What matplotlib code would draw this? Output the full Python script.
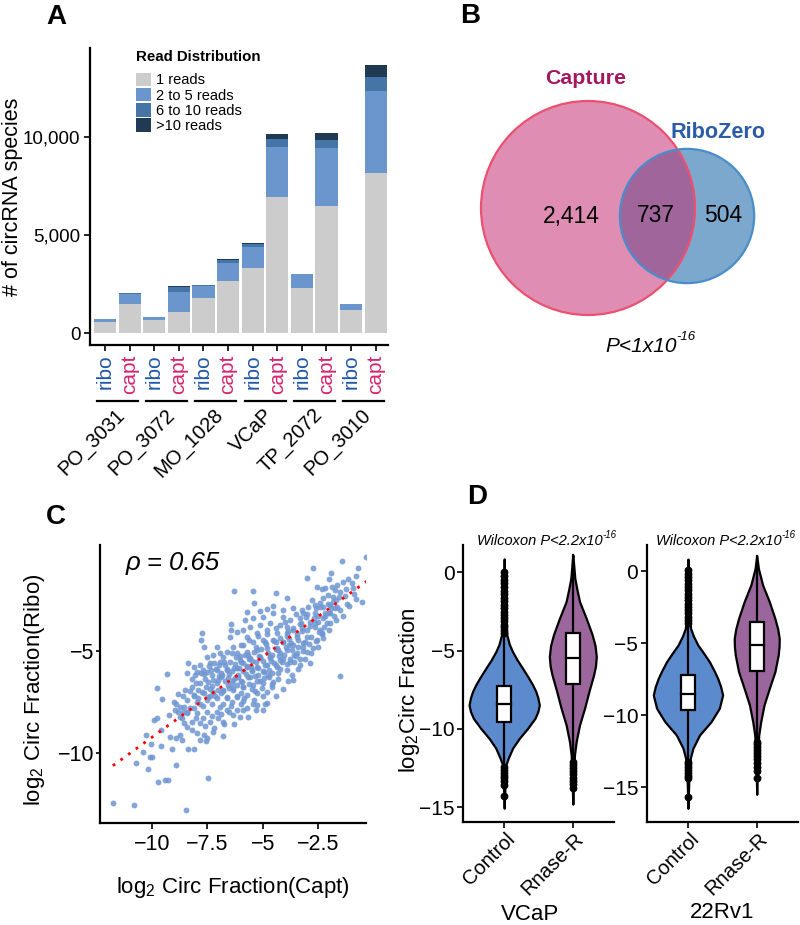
import numpy as np
import matplotlib
matplotlib.use('Agg')
import matplotlib.pyplot as plt
from matplotlib.patches import Circle, Rectangle, Patch
from matplotlib.lines import Line2D
import matplotlib.transforms as mtransforms

plt.rcParams['font.family'] = ['Liberation Sans', 'DejaVu Sans']
plt.rcParams['mathtext.fontset'] = 'custom'
plt.rcParams['mathtext.rm'] = 'Liberation Sans'
plt.rcParams['mathtext.it'] = 'Liberation Sans:italic'
plt.rcParams['mathtext.bf'] = 'Liberation Sans:bold'

# ---------------- Panel A data ----------------
samples = ['PO_3031', 'PO_3072', 'MO_1028', 'VCaP', 'TP_2072', 'PO_3010']
libraries = ['ribo', 'capt']
read_classes = ['1 reads', '2 to 5 reads', '6 to 10 reads', '>10 reads']
reads_1 = [590, 1480, 670, 1060, 1800, 2640, 3330, 6940, 2300, 6470, 1180, 8150]
reads_2_5 = [115, 535, 135, 1025, 600, 940, 1075, 2555, 690, 2940, 285, 4150]
reads_6_10 = [10, 20, 10, 270, 35, 150, 135, 385, 50, 420, 15, 720]
reads_gt10 = [0, 0, 0, 65, 0, 65, 50, 235, 0, 335, 0, 640]
a_yticks = [0, 5000, 10000]
a_yticklabels = ['0', '5,000', '10,000']

# ---------------- Panel B data ----------------
venn_counts = [2414, 737, 504]   # Capture only, both, RiboZero only
venn_names = ['Capture', 'RiboZero']

# ---------------- Panel C data ----------------
capt_log2 = [
    -0.32, -1.44, -2.72, -0.69, -1.92, -3.02, -1.14, -0.77, -2.0, -1.37,
    -1.67, -2.57, -2.34, -2.19, -1.89, -1.74, -1.52, -0.99, -0.92, -1.22,
    -1.55, -2.04, -0.54, -0.77, -1.1, -6.28, -5.42, -4.4, -3.89, -5.38,
    -4.52, -5.72, -5.12, -4.82, -4.07, -3.62, -3.24, -2.94, -2.42, -1.82,
    -1.52, -2.79, -2.64, -2.27, -1.97, -3.17, -2.49, -2.19, -1.97, -1.64,
    -6.44, -6.44, -7.75, -7.78, -6.47, -6.14, -5.8, -5.42, -4.97, -4.52,
    -4.07, -3.77, -3.32, -2.87, -2.64, -3.24, -3.62, -3.92, -4.22, -4.67,
    -5.12, -5.57, -5.87, -5.72, -5.27, -4.82, -4.37, -3.92, -3.47, -3.02,
    -2.57, -2.34, -2.12, -2.42, -3.17, -3.62, -4.07, -4.52, -4.97, -5.42,
    -5.87, -6.32, -7.07, -7.67, -7.52, -7.22, -6.92, -6.62, -6.17, -5.72,
    -5.27, -4.82, -4.37, -3.92, -3.47, -3.02, -2.72, -2.87, -3.32, -3.77,
    -4.22, -4.67, -5.12, -5.57, -6.02, -6.47, -6.92, -7.37, -7.82, -8.12,
    -8.35, -8.42, -7.97, -7.52, -7.07, -6.62, -6.17, -5.72, -5.27, -4.82,
    -4.37, -3.92, -1.52, -9.32, -3.87, -3.62,
    -9.77, -9.55, -9.92, -9.77, -9.02, -8.8, -8.5, -8.2, -7.82, -7.45,
    -7.0, -6.55, -6.1, -5.65, -5.2, -4.74, -4.29, -4.52, -4.97, -5.42,
    -5.87, -6.32, -6.77, -7.22, -7.67, -8.12, -8.42, -7.97, -7.52, -7.07,
    -6.62, -6.17, -5.72, -5.27, -4.82, -4.82, -5.27, -5.72, -6.17, -6.62,
    -7.07, -7.52, -7.97, -8.42, -8.72, -8.95, -8.65, -8.2, -7.82, -7.37,
    -7.0, -6.32, -6.02, -5.65, -4.97,
    -11.76, -10.8, -8.45, -7.45, -9.74, -9.4, -9.25, -10.18, -10.72, -8.89,
    -10.4, -10.08, -10.0, -10.03, -10.27, -9.61, -9.07, -8.35, -8.08, -9.22,
    -9.61, -9.17, -8.93, -8.72, -8.65, -8.42, -8.2, -7.97, -7.82, -7.55,
    -7.52, -7.67, -7.25, -6.8, -6.73, -8.57, -8.72, -8.42, -8.27, -8.57,
    -8.8,
    -7.3, -6.9, -6.4, -5.9, -5.5, -5.0, -4.6, -4.2, -3.8, -3.4,
    -3.0, -2.7, -3.3, -3.9, -4.4, -4.9, -5.3, -5.8, -6.2, -6.7,
    -7.1, -7.6, -8.0, -8.3, -7.9, -7.4, -6.9, -6.4, -6.0, -5.5,
    -5.0, -4.5, -4.1, -3.6, -3.2, -2.5, -2.2, -1.9, -1.7, -2.3,
    -2.6, -3.0, -3.5, -4.0, -4.4, -4.8, -5.2, -5.6, -6.0, -6.4,
    -6.8, -7.2, -7.8, -8.2, -8.6, -8.9, -8.6, -8.1, -7.7, -7.3,
    -6.8, -6.4, -6.0, -5.5, -5.1, -4.7, -4.3, -4.6, -5.0, -5.4,
    -6.0, -6.5, -6.9, -7.3, -7.7, -8.0, -7.6, -7.2, -6.8, -6.3,
    -5.9, -5.3, -4.9, -4.4, -4.1, -3.7, -3.4, -3.1, -2.8, -2.5,
    -2.3, -2.0, -1.7, -1.4, -1.2, -0.9, -1.3, -1.8,
    -7.93, -7.58, -7.27, -7.04, -6.71, -6.36, -6.12, -5.77, -5.49, -5.23,
    -4.88, -4.63, -4.27, -4.04, -3.66, -3.43, -3.08, -2.83, -2.47, -2.24,
    -7.81, -7.46, -7.14, -6.77, -6.52, -6.18, -5.94, -5.57, -5.33, -4.96,
    -4.72, -4.38, -4.13, -3.76, -3.52, -3.17, -2.91, -2.58, -2.33, -1.98,
    -7.68, -7.43, -6.96, -6.73, -6.27, -6.04, -5.66, -5.41, -5.06, -4.83,
    -4.47, -4.24, -3.86, -3.63, -3.28, -3.04, -2.66, -2.43, -2.07, -1.83,
    -8.12, -7.72, -7.36, -7.03, -6.58, -6.33, -5.87, -5.62, -5.27, -4.93,
    -4.57, -4.23, -3.92, -3.58, -3.31, -6.87, -6.54, -6.07, -5.72, -5.28,
    -7.22, -6.83, -6.27, -5.91, -5.53, -5.12, -4.68, -4.33, -3.97, -3.72,
    -8.04, -7.63, -7.32, -6.98, -6.62, -6.29, -5.98, -5.63, -5.18, -4.77,
    -4.42, -4.07, -3.83, -3.47, -3.22, -2.87, -2.62, -2.28, -2.03, -1.72,
    -6.63, -6.17, -5.84, -5.37, -5.03, -4.58, -6.93, -6.42, -5.88, -5.43,
]
ribo_log2 = [
    -0.39, -0.59, -0.96, -0.96, -1.21, -1.45, -1.5, -1.34, -1.5, -1.62,
    -1.78, -1.86, -1.99, -1.94, -1.86, -2.03, -2.11, -1.7, -1.94, -1.99,
    -2.35, -2.27, -2.6, -2.48, -2.81, -2.09, -2.08, -2.19, -2.43, -2.68,
    -2.81, -3.09, -3.06, -2.97, -3.0, -2.92, -3.0, -2.84, -2.68, -2.6,
    -3.0, -2.52, -2.76, -2.84, -2.76, -3.17, -3.3, -3.17, -3.17, -2.84,
    -3.71, -3.99, -4.12, -4.48, -4.31, -4.07, -3.5, -3.42, -3.33, -3.17,
    -3.33, -3.5, -3.42, -3.58, -3.82, -3.91, -3.99, -3.82, -3.74, -3.66,
    -3.74, -3.82, -3.99, -4.31, -4.15, -3.99, -4.15, -4.15, -4.31, -4.31,
    -4.48, -4.15, -3.66, -3.99, -4.64, -4.72, -4.56, -4.48, -4.48, -4.56,
    -4.72, -4.8, -4.8, -4.8, -5.29, -5.21, -5.13, -5.05, -5.13, -5.05,
    -4.97, -4.89, -4.89, -4.97, -5.13, -5.05, -4.89, -5.62, -5.7, -5.54,
    -5.46, -5.38, -5.29, -5.38, -5.46, -5.54, -5.54, -5.62, -5.7, -5.78,
    -5.62, -6.11, -6.03, -6.03, -5.95, -5.95, -5.87, -5.78, -5.78, -5.7,
    -5.78, -5.95, -6.23, -6.16, -6.47, -6.44,
    -6.85, -7.37, -8.4, -8.32, -7.5, -7.14, -6.93, -6.76, -6.6, -6.52,
    -6.44, -6.36, -6.27, -6.27, -6.19, -6.19, -6.11, -6.52, -6.6, -6.68,
    -6.76, -6.85, -6.93, -7.01, -7.09, -7.17, -7.42, -7.5, -7.42, -7.34,
    -7.34, -7.25, -7.17, -7.09, -7.01, -7.58, -7.66, -7.83, -7.91, -7.91,
    -7.99, -7.99, -8.07, -7.99, -7.75, -7.91, -8.32, -8.48, -8.56, -8.48,
    -8.32, -8.15, -8.24, -8.24, -7.91,
    -12.45, -12.58, -12.81, -11.26, -11.45, -11.32, -11.32, -10.82, -10.52, -10.6,
    -9.97, -10.2, -10.2, -9.59, -9.13, -9.69, -9.84, -9.82, -9.84, -8.15,
    -8.89, -9.22, -9.3, -9.13, -9.38, -8.76, -8.89, -9.05, -9.38, -9.43,
    -9.3, -9.13, -9.0, -9.17, -8.61, -8.56, -8.24, -8.07, -7.83, -7.75,
    -7.99,
    -6.2, -6.1, -6.0, -5.6, -5.5, -5.5, -5.2, -5.1, -4.7, -4.5,
    -4.0, -3.4, -3.7, -4.3, -4.6, -4.6, -4.8, -5.2, -5.3, -5.7,
    -5.9, -6.4, -6.6, -7.0, -7.3, -7.2, -7.1, -6.6, -6.5, -6.0,
    -6.0, -5.6, -5.4, -5.2, -4.8, -3.6, -3.3, -2.9, -2.5, -2.4,
    -2.9, -3.2, -3.2, -3.6, -3.9, -4.2, -4.3, -4.5, -4.7, -5.1,
    -5.3, -5.6, -6.1, -6.4, -7.2, -7.6, -8.0, -7.8, -7.7, -7.6,
    -7.6, -7.5, -7.1, -6.9, -6.5, -6.3, -6.4, -6.8, -7.2, -7.4,
    -7.6, -8.0, -8.1, -8.2, -8.3, -8.3, -8.7, -8.8, -8.5, -8.6,
    -7.9, -7.9, -7.6, -7.2, -6.9, -6.2, -5.9, -5.4, -5.1, -4.8,
    -4.4, -4.0, -3.5, -3.3, -2.7, -2.2, -2.3, -3.3,
    -6.93, -6.77, -6.72, -6.58, -6.47, -6.42, -6.18, -6.13, -5.97, -5.83,
    -5.68, -5.52, -5.27, -5.22, -4.97, -4.83, -4.58, -4.32, -4.07, -3.83,
    -7.63, -7.27, -7.22, -6.97, -6.83, -6.67, -6.53, -6.27, -6.22, -6.07,
    -5.93, -5.68, -5.57, -5.43, -5.27, -5.03, -4.67, -4.52, -4.17, -3.63,
    -5.93, -5.77, -5.72, -5.57, -5.63, -5.27, -5.23, -5.07, -4.93, -4.68,
    -4.52, -4.37, -4.03, -3.88, -3.63, -3.37, -3.13, -2.87, -2.72, -2.38,
    -7.23, -7.03, -6.88, -6.92, -6.68, -6.93, -6.77, -6.63, -6.47, -6.32,
    -6.08, -5.92, -5.63, -5.58, -5.43, -6.27, -6.13, -5.87, -5.73, -5.58,
    -6.43, -6.17, -6.33, -5.98, -5.82, -5.37, -5.33, -4.98, -4.82, -4.63,
    -6.17, -6.13, -5.97, -6.23, -5.88, -5.83, -5.57, -5.42, -5.27, -5.13,
    -4.93, -4.58, -4.43, -4.17, -4.03, -3.77, -3.63, -3.38, -3.13, -2.93,
    -7.27, -7.23, -7.32, -6.98, -6.83, -6.63, -7.77, -7.72, -7.47, -7.63,
]
fit_slope = 0.79
fit_intercept = -1.35
rho_text = 'ρ = 0.65'
c_xticks = [-10, -7.5, -5, -2.5]
c_xticklabels = ['\u221210', '\u22127.5', '\u22125', '\u22122.5']
c_yticks = [-10, -5]
c_yticklabels = ['\u221210', '\u22125']

# ---------------- Panel D data ----------------
d_groups = ['Control', 'Rnase-R']
d_cells = ['VCaP', '22Rv1']
d_yticks = [0, -5, -10, -15]
d_yticklabels = ['0', '\u22125', '\u221210', '\u221215']
# violin outlines: y levels and half-widths
vcap_ctrl_y = [0.85, -1.0, -3.0, -4.0, -4.6, -5.07, -5.6, -6.13, -6.7, -7.19, -7.6, -8.0, -8.47, -8.9, -9.32, -9.96, -10.6, -11.23, -11.87, -12.3, -13.5, -15.06]
vcap_ctrl_w = [0.0, 0.006, 0.02, 0.039, 0.075, 0.122, 0.19, 0.268, 0.35, 0.415, 0.46, 0.49, 0.512, 0.49, 0.449, 0.342, 0.22, 0.122, 0.059, 0.024, 0.012, 0.0]
vcap_rnase_y = [1.1, 0.5, -0.38, -1.1, -1.87, -2.94, -4.0, -4.7, -5.39, -6.0, -6.55, -7.62, -8.68, -9.74, -10.8, -11.66, -13.0, -14.8]
vcap_rnase_w = [0.0, 0.012, 0.029, 0.06, 0.098, 0.195, 0.283, 0.325, 0.342, 0.33, 0.303, 0.234, 0.171, 0.098, 0.049, 0.024, 0.012, 0.0]
rv1_ctrl_y = [0.85, -2.0, -3.0, -3.96, -4.5, -5.12, -5.7, -6.28, -6.9, -7.43, -8.0, -8.59, -9.51, -10.44, -11.37, -12.29, -12.99, -14.5, -16.46]
rv1_ctrl_w = [0.0, 0.01, 0.02, 0.038, 0.08, 0.144, 0.23, 0.312, 0.38, 0.432, 0.475, 0.504, 0.456, 0.336, 0.168, 0.072, 0.034, 0.012, 0.0]
rv1_rnase_y = [1.09, 0.2, -0.95, -2.11, -3.27, -4.0, -4.65, -5.2, -5.81, -6.97, -8.13, -9.28, -10.44, -11.37, -13.0, -15.49]
rv1_rnase_w = [0.0, 0.024, 0.086, 0.183, 0.264, 0.305, 0.327, 0.325, 0.312, 0.264, 0.183, 0.106, 0.058, 0.029, 0.012, 0.0]
# box stats: (lower whisker, q1, median, q3, upper whisker)
vcap_ctrl_box = (-12.35, -9.53, -8.43, -7.26, -3.95)
vcap_rnase_box = (-12.0, -7.15, -5.47, -3.87, 1.1)
rv1_ctrl_box = (-13.1, -9.63, -8.52, -7.2, -3.8)
rv1_rnase_box = (-11.7, -6.9, -5.12, -3.5, 1.09)
vcap_ctrl_out = [0.02, -0.22, -0.48, -0.71, -0.93, -1.18, -1.41, -1.62, -1.84, -2.07, -2.28, -2.52, -2.71, -2.93, -3.12, -3.34, -3.52, -3.71, -3.9,
                 -12.45, -12.62, -12.8, -12.98, -13.15, -13.35, -13.55, -14.25]
vcap_rnase_out = [-12.1, -12.3, -12.52, -12.7, -12.9, -13.1, -13.3, -13.5, -13.78]
rv1_ctrl_out = [0.08, -0.15, -0.4, -0.62, -0.85, -1.1, -1.33, -1.55, -1.78, -2.0, -2.24, -2.46, -2.7, -2.92, -3.15, -3.38, -3.62,
                -13.22, -13.4, -13.6, -13.8, -14.0, -14.2, -14.38, -15.65]
rv1_rnase_out = [-11.83, -12.02, -12.22, -12.42, -12.62, -12.82, -13.05, -13.3, -13.6, -13.9, -14.38]

# ---------------- Figure ----------------
W, H = 800, 925
fig = plt.figure(figsize=(W / 100, H / 100), dpi=100)


def fx(x):
    return x / W


def fy(y):
    return 1 - y / H


def rect(l, t, r, b):
    return [l / W, 1 - b / H, (r - l) / W, (b - t) / H]


def style_axes(ax, lw=1.6):
    for s in ['top', 'right']:
        ax.spines[s].set_visible(False)
    for s in ['left', 'bottom']:
        ax.spines[s].set_linewidth(lw)
        ax.spines[s].set_color('black')
    ax.tick_params(direction='out', length=4, width=1.2, color='black')


# Panel labels
for lab, (px, py) in zip(['A', 'B', 'C', 'D'], [(56, 17), (470, 16), (56, 517), (477, 497)]):
    fig.text(fx(px), fy(py), lab, fontsize=20, fontweight='bold', ha='center', va='center')

# ---------------- Panel A ----------------
read_colors = ['#CCCCCC', '#6A96CD', '#4574A7', '#1F3A52']
axA = fig.add_axes(rect(90, 48, 388, 345))
nbar = len(samples) * len(libraries)
xpos = np.arange(1, nbar + 1)
bottom = np.zeros(nbar)
handles = []
for vals, col, lab in zip([reads_1, reads_2_5, reads_6_10, reads_gt10], read_colors, read_classes):
    axA.bar(xpos, vals, bottom=bottom, width=0.9, color=col, linewidth=0)
    bottom += np.array(vals, dtype=float)
    handles.append(Patch(facecolor=col, edgecolor='none', label=lab))
axA.set_xlim(0.39, 12.5)
axA.set_ylim(-595, 14505)
style_axes(axA)
axA.set_yticks(a_yticks, a_yticklabels, fontsize=13.5)
axA.tick_params(axis='y', pad=3)
xlabels = [lib for s in samples for lib in libraries]
axA.set_xticks(xpos, xlabels, rotation=90, fontsize=15)
axA.tick_params(axis='x', pad=3)
lib_colors = {'ribo': '#2157A8', 'capt': '#D6246E'}
for t, lab in zip(axA.get_xticklabels(), xlabels):
    t.set_color(lib_colors[lab])
blend = mtransforms.blended_transform_factory(axA.transData, fig.transFigure)
for i, s in enumerate(samples):
    xa, xb = xpos[2 * i], xpos[2 * i + 1]
    axA.add_line(Line2D([xa - 0.33, xb + 0.34], [fy(401), fy(401)], transform=blend,
                        color='black', lw=1.6, clip_on=False))
    axA.text((xa + xb) / 2 + 0.47, fy(405), s, transform=blend, rotation=45,
             ha='right', va='top', fontsize=14.5)
fig.text(fx(13), fy(197), '# of circRNA species', rotation=90, ha='center', va='center', fontsize=15.5)
fig.text(fx(136), fy(57), 'Read Distribution', fontsize=10.8, fontweight='bold', ha='left', va='center')
leg = axA.legend(handles=handles, loc='upper left',
                 bbox_to_anchor=(fx(136), fy(72.5)), bbox_transform=fig.transFigure,
                 frameon=False, fontsize=10.5,
                 handlelength=1.0, handleheight=1.05, handletextpad=0.4, labelspacing=0.04,
                 borderpad=0, borderaxespad=0)

# ---------------- Panel B ----------------
axB = fig.add_axes(rect(400, 0, 800, 340))
axB.set_xlim(400, 800)
axB.set_ylim(340, 0)
axB.set_aspect('equal')
axB.axis('off')
cap_total = venn_counts[0] + venn_counts[1]
rib_total = venn_counts[1] + venn_counts[2]
scale = 1.906
r_cap = scale * np.sqrt(cap_total)
r_rib = scale * np.sqrt(rib_total)
c_cap = (588, 208)
c_rib = (687, 216)
axB.add_patch(Circle(c_cap, r_cap, facecolor='#E08DB4', edgecolor='none'))
axB.add_patch(Circle(c_rib, r_rib, facecolor='#7CA8CE', edgecolor='none'))
ov = Circle(c_rib, r_rib, facecolor='#A0669C', edgecolor='none')
axB.add_patch(ov)
ov.set_clip_path(Circle(c_cap, r_cap, transform=axB.transData))
axB.add_patch(Circle(c_cap, r_cap, fill=False, edgecolor='#EA516F', lw=1.6))
axB.add_patch(Circle(c_rib, r_rib, fill=False, edgecolor='#4A8DCB', lw=1.6))
axB.text(586, 78, venn_names[0], color='#A3185F', fontsize=15.4, fontweight='bold', ha='center', va='center')
axB.text(718, 132, venn_names[1], color='#2B5CA6', fontsize=15.6, fontweight='bold', ha='center', va='center')
for val, xx in zip(venn_counts, [571, 656, 723]):
    axB.text(xx, 216, f'{val:,}', fontsize=16.5, ha='center', va='center')
tP = fig.text(fx(605), fy(346), 'P<1x10', fontsize=15, fontstyle='italic', ha='left', va='center')
axB.annotate('-16', xy=(1.0, 0.95), xycoords=tP, fontsize=9.5, fontstyle='italic',
             ha='left', va='center', annotation_clip=False)

# ---------------- Panel C ----------------
axC = fig.add_axes(rect(100, 545, 366, 823))
axC.scatter(capt_log2, ribo_log2, s=18, color='#6E96D2', alpha=0.85, linewidths=0, zorder=2)
xf = np.array([min(capt_log2), max(capt_log2)])
axC.plot(xf, fit_intercept + fit_slope * xf, color='red', lw=2, linestyle=(0, (1, 2.4)),
         dash_capstyle='butt', zorder=3)
axC.set_xlim(-12.34, -0.34)
axC.set_ylim(-13.45, 0.18)
style_axes(axC)
axC.set_xticks(c_xticks, c_xticklabels, fontsize=15.5)
axC.set_yticks(c_yticks, c_yticklabels, fontsize=15.5)
axC.tick_params(axis='x', pad=4)
axC.tick_params(axis='y', pad=1, length=3)
axC.text(fx(173), fy(563), rho_text, transform=fig.transFigure, fontsize=18.5, fontstyle='italic',
         ha='center', va='center')
fig.text(fx(233), fy(887), r'log$_2$ Circ Fraction(Capt)', fontsize=16, ha='center', va='center')
fig.text(fx(35), fy(690), r'log$_2$ Circ Fraction(Ribo)', fontsize=16, rotation=90, ha='center', va='center')

# ---------------- Panel D ----------------
ctrl_color = '#5B8ACD'
rnase_color = '#9B669B'


def draw_panel(ax, prof, boxes, outs, ylim):
    for i, ((yy, ww), box, out, col) in enumerate(zip(prof, boxes, outs, [ctrl_color, rnase_color])):
        xc = i + 1
        yy = np.array(yy)
        ww = np.array(ww)
        ax.fill_betweenx(yy, xc - ww, xc + ww, facecolor=col, edgecolor='black', lw=1.6,
                         joinstyle='round', zorder=2)
        lo, q1, med, q3, hi = box
        ax.plot([xc, xc], [lo, q1], color='black', lw=1.6, zorder=3)
        ax.plot([xc, xc], [q3, hi], color='black', lw=1.6, zorder=3)
        ax.add_patch(Rectangle((xc - 0.1, q1), 0.2, q3 - q1, facecolor='white', edgecolor='black',
                               lw=1.6, zorder=4))
        ax.plot([xc - 0.1, xc + 0.1], [med, med], color='black', lw=1.6, zorder=5)
        ax.plot([xc] * len(out), out, 'o', color='black', markersize=4.6, zorder=3)
    ax.set_xlim(0.4, 2.6)
    ax.set_ylim(*ylim)
    style_axes(ax)
    ax.set_yticks(d_yticks, d_yticklabels, fontsize=15)
    ax.tick_params(axis='y', pad=2)
    ax.set_xticks([1, 2], d_groups, rotation=45, ha='right', va='top', fontsize=14.5)
    ax.tick_params(axis='x', pad=1)
    off = mtransforms.ScaledTranslation(15 / 100, 0, fig.dpi_scale_trans)
    for t in ax.get_xticklabels():
        t.set_transform(t.get_transform() + off)


axD1 = fig.add_axes(rect(463, 545, 614, 822))
draw_panel(axD1, [(vcap_ctrl_y, vcap_ctrl_w), (vcap_rnase_y, vcap_rnase_w)],
           [vcap_ctrl_box, vcap_rnase_box], [vcap_ctrl_out, vcap_rnase_out], (-15.94, 1.74))
axD2 = fig.add_axes(rect(646.7, 545, 798, 822))
draw_panel(axD2, [(rv1_ctrl_y, rv1_ctrl_w), (rv1_rnase_y, rv1_rnase_w)],
           [rv1_ctrl_box, rv1_rnase_box], [rv1_ctrl_out, rv1_rnase_out], (-17.41, 1.83))

fig.text(fx(409), fy(690), r'log$_2$Circ Fraction', fontsize=16, rotation=90, ha='center', va='center')
fig.text(fx(530), fy(915), d_cells[0], fontsize=16, ha='center', va='center')
fig.text(fx(722), fy(913), d_cells[1], fontsize=16, ha='center', va='center')
for xl in [477, 656]:
    tw = fig.text(fx(xl), fy(541), 'Wilcoxon P<2.2x10', fontsize=10.5, fontstyle='italic',
                  ha='left', va='center')
    axD1.annotate('-16', xy=(1.0, 0.95), xycoords=tw, fontsize=7, fontstyle='italic',
                  ha='left', va='center', annotation_clip=False)

fig.savefig('out.png', dpi=100)
